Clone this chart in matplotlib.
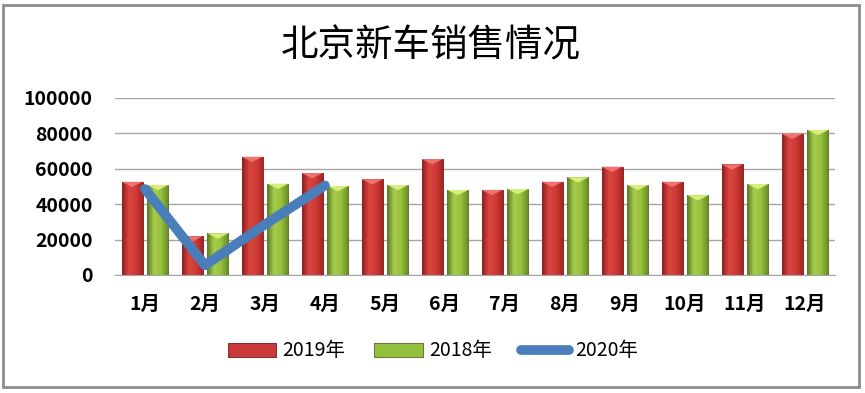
import numpy as np
import matplotlib
matplotlib.use('Agg')
import matplotlib.pyplot as plt
from matplotlib.patches import Rectangle, Polygon
from matplotlib.colors import LinearSegmentedColormap

plt.rcParams['font.family'] = ['Noto Sans CJK SC', 'DejaVu Sans']

# data
months = ['1月', '2月', '3月', '4月', '5月', '6月', '7月', '8月', '9月', '10月', '11月', '12月']
sales_2019 = [52600, 21800, 66700, 57500, 54000, 65400, 48000, 52600, 61100, 52600, 62400, 79700]
sales_2018 = [50800, 23500, 51500, 50200, 50800, 48000, 48500, 55100, 50800, 45000, 51300, 81800]
sales_2020 = [48500, 5500, 28500, 50500]

W, H = 865, 393
fig = plt.figure(figsize=(W / 100, H / 100), dpi=100)

# outer chart border
fig.patches.append(Rectangle((3 / W, 1 - 387 / H), 856 / W, 382 / H, transform=fig.transFigure,
                             fill=False, edgecolor='#8c8c8c', linewidth=2))

ax = fig.add_axes([115 / W, 1 - 275 / H, 720 / W, 177.3 / H])
x = np.arange(len(months))
bw = 0.35
gap = 0.04

red_cmap = LinearSegmentedColormap.from_list('r', ['#8e1f1f', '#d9453f', '#cf3b36', '#a32523'])
green_cmap = LinearSegmentedColormap.from_list('g', ['#5b7a22', '#a5cc4a', '#98c23e', '#6b8f2a'])

bars_r = ax.bar(x - bw / 2 - gap, sales_2019, bw, color='#c9393a', edgecolor='#7a1717',
                linewidth=0.6, label='2019年', zorder=2)
bars_g = ax.bar(x + bw / 2 + gap, sales_2018, bw, color='#94bf3e', edgecolor='#4f6b1a',
                linewidth=0.6, label='2018年', zorder=2)

# shade the bars with a horizontal gradient and a light bevel at the top
grad = np.linspace(0, 1, 64).reshape(1, -1)
for bars, cm, top in [(bars_r, red_cmap, '#ee7270'), (bars_g, green_cmap, '#d6ef7a')]:
    for b in bars:
        x0, w, h = b.get_x(), b.get_width(), b.get_height()
        im = ax.imshow(grad, cmap=cm, aspect='auto', extent=[x0, x0 + w, 0, h], zorder=2.1)
        im.set_clip_path(b)
        ax.add_patch(Polygon([(x0, h), (x0 + w, h), (x0 + w / 2, h - 3000)],
                             closed=True, facecolor=top, edgecolor='none', zorder=2.2))

line, = ax.plot(x[:len(sales_2020)], sales_2020, color='#4a7ebb', linewidth=7,
                solid_capstyle='round', solid_joinstyle='round', label='2020年', zorder=3)

ax.set_xlim(-0.5, len(months) - 0.5)
ax.set_ylim(0, 100000)
ax.set_yticks(range(0, 100001, 20000))
ax.set_yticklabels([str(v) for v in range(0, 100001, 20000)], fontsize=14, fontweight='bold')
ax.set_xticks(x)
ax.set_xticklabels(months, fontsize=14, fontweight='bold')
ax.tick_params(length=0)
ax.tick_params(axis='y', pad=16)
ax.tick_params(axis='x', pad=14)
ax.grid(axis='y', color='#a6a6a6', linewidth=1, zorder=0)
for s in ['top', 'right', 'left']:
    ax.spines[s].set_visible(False)
ax.spines['bottom'].set_color('#a6a6a6')

fig.text(431 / W, 1 - 46 / H, '北京新车销售情况', ha='center', va='center', fontsize=27,
         fontweight='light')

fig.legend(handles=[bars_r, bars_g, line], loc='center', bbox_to_anchor=(433 / W, 1 - 351 / H),
           ncol=3, frameon=False, fontsize=14, handlelength=2.5, handleheight=0.7,
           columnspacing=1.5, handletextpad=0.3)

fig.savefig('out.png', dpi=100)
